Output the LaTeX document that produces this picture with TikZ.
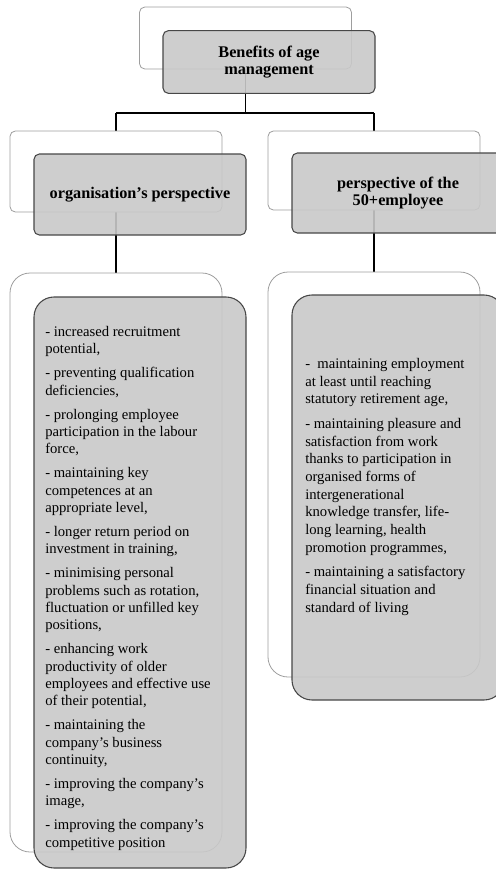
\documentclass[tikz,border=0pt]{standalone}
\usepackage{fontspec}
\setmainfont{Liberation Serif}
\usetikzlibrary{positioning}
\usetikzlibrary{backgrounds}

\tikzset{
  backbox/.style={draw=black!38, fill=white, line width=0.6pt, minimum width=159pt},
  frontbox/.style={draw=black!72, fill=black!21, fill opacity=0.9, text opacity=1, line width=0.8pt, minimum width=159pt,
    font=\bfseries\fontsize{12.2}{12.75}\selectfont, align=center},
  listtext/.style={font=\fontsize{11}{13}\selectfont, align=left, inner sep=0pt, anchor=north west},
  link/.style={line width=1.1pt}
}

\begin{document}
\begin{tikzpicture}[x=0.75pt,y=-0.75pt]
\useasboundingbox (0,0) rectangle (496,869);
\clip (0,0) rectangle (496,869);

% Kopf
\node[backbox, rounded corners=4pt, minimum height=46.5pt] (topback) at (245.5,38) {};
\node[frontbox, rounded corners=4pt, minimum height=47pt] (topfront) at (269,62) {Benefits of age\\management};

% zweite Ebene
\node[backbox, rounded corners=4pt, minimum height=60.75pt] (orgback) at (116,171.5) {};
\node[frontbox, rounded corners=4pt, minimum height=60.75pt] (orgfront) at (140,194.5) {organisation's perspective};
\node[backbox, rounded corners=4pt, minimum height=59.25pt] (empback) at (374,170.5) {};
\node[frontbox, rounded corners=4pt, minimum height=60pt] (empfront) at (398,193) {perspective of the\\50+employee};

% dritte Ebene
\node[backbox, rounded corners=15pt, minimum height=434.25pt] (orglistback) at (116,562.5) {};
\node[frontbox, rounded corners=15pt, minimum height=428.25pt] (orglistfront) at (140,582.5) {};
\node[backbox, rounded corners=15pt, minimum height=303.75pt] (emplistback) at (374,474.5) {};
\node[frontbox, rounded corners=15pt, minimum height=303.75pt] (emplistfront) at (398,497.5) {};

\node[listtext] (orglist) at (45,326) {- increased recruitment\\potential,\\[5pt]
- preventing qualification\\deficiencies,\\[5pt]
- prolonging employee\\participation in the labour\\force,\\[5pt]
- maintaining key\\competences at an\\appropriate level,\\[5pt]
- longer return period on\\investment in training,\\[5pt]
- minimising personal\\problems such as rotation,\\fluctuation or unfilled key\\positions,\\[5pt]
- enhancing work\\productivity of older\\employees and effective use\\of their potential,\\[5pt]
- maintaining the\\company's business\\continuity,\\[5pt]
- improving the company's\\image,\\[5pt]
- improving the company's\\competitive position};

\node[listtext, font=\fontsize{11}{13.3}\selectfont] (emplist) at (305,358) {-\ \ maintaining employment\\at least until reaching\\statutory retirement age,\\[5pt]
- maintaining pleasure and\\satisfaction from work\\thanks to participation in\\organised forms of\\intergenerational\\knowledge transfer, life-\\long learning, health\\promotion programmes,\\[5pt]
- maintaining a satisfactory\\financial situation and\\standard of living};

% Verbindungen
\coordinate (fork) at (245.5,113);
\begin{pgfonlayer}{background}
\draw[link] (topback.center) -- (fork);
\draw[link] (orgback.center |- fork) -- (empback.center |- fork);
\draw[link] (orgback.center |- fork) -- (orgback.center);
\draw[link] (empback.center |- fork) -- (empback.center);
\draw[link] (orgback.center) -- (orglistback.north);
\draw[link] (empback.center) -- (emplistback.north);
\end{pgfonlayer}

\end{tikzpicture}
\end{document}
